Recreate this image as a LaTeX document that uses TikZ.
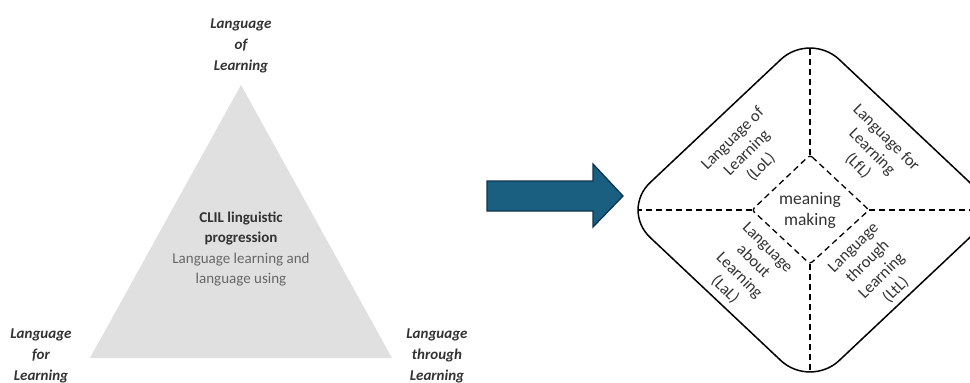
\documentclass[tikz,border=0pt]{standalone}
\usepackage{fontspec}
\setmainfont{Carlito}
\usepackage{xcolor}
\usepackage{tikz}
\usetikzlibrary{positioning}
\definecolor{trigray}{HTML}{E0E0E0}
\definecolor{arrowblue}{HTML}{1B5F80}
\definecolor{arrowedge}{HTML}{0E3650}
\definecolor{labelgray}{HTML}{333333}
\definecolor{textgray}{HTML}{676767}
\tikzset{
    cornerlabel/.style={align=center, inner sep=0pt, text=labelgray,
        font=\fontsize{15}{21}\selectfont\bfseries\itshape},
    quadlabel/.style={align=center, inner sep=0pt, text=black!80,
        font=\fontsize{16.5}{20}\selectfont},
    divider/.style={line width=1.3pt, dash pattern=on 6pt off 4pt}
}

\begin{document}
\begin{tikzpicture}[x=1pt, y=-1pt]
                        \useasboundingbox (0,0) rectangle (970,383);
                        % triangle
                        \fill[trigray] (241,85) -- (392,358) -- (90,358) -- cycle;
                        \node[cornerlabel] (lol) at (241,46) {Language\\of\\Learning};
                        \node[cornerlabel] (lfl) at (41,356) {Language\\for\\Learning};
                        \node[cornerlabel] (ltl) at (437,356) {Language\\through\\Learning};
                        \node[align=center, inner sep=0pt, text=textgray, font=\fontsize{15}{20.3}\selectfont] (clil) at (241,249)
                            {\textcolor{labelgray}{\bfseries CLIL linguistic}\\\textcolor{labelgray}{\bfseries progression}\\Language learning and\\language using};
                        % arrow
                        \filldraw[fill=arrowblue, draw=arrowedge, line width=1.3pt] (487,181) -- (593,181) -- (593,164) -- (623,196) -- (593,227) -- (593,211) -- (487,211) -- cycle;
                        % outer diamond
                        \draw[line width=1.5pt, rounded corners=40pt] (810,32) -- (999,210) -- (810,388) -- (621,210) -- cycle;
                        \coordinate (otop) at (810,49);
                        \coordinate (obot) at (810,370);
                        \coordinate (oleft) at (638,210);
                        \coordinate (oright) at (975,210);
                        % inner diamond
                        \coordinate (itop) at (810,155);
                        \coordinate (ibot) at (810,264);
                        \coordinate (ileft) at (752,210);
                        \coordinate (iright) at (869,210);
                        \draw[divider, rounded corners=3pt] (itop) -- (iright) -- (ibot) -- (ileft) -- cycle;
                        \draw[divider] (itop) -- (otop);
                        \draw[divider] (ibot) -- (obot);
                        \draw[divider] (ileft) -- (oleft);
                        \draw[divider] (iright) -- (oright);
                        \node[quadlabel, font=\fontsize{17.5}{21}\selectfont] (mm) at (810,210) {meaning\\making};
                        \node[quadlabel, rotate=45] (qlol) at (747,153) {Language of\\Learning\\(LoL)};
                        \node[quadlabel, rotate=-45] (qlfl) at (872,152) {Language for\\Learning\\(LfL)};
                        \node[quadlabel, rotate=-45] (qlal) at (746,269) {Language\\about\\Learning\\(LaL)};
                        \node[quadlabel, rotate=45] (qltl) at (875,269) {Language\\through\\Learning\\(LtL)};
                    \end{tikzpicture}
\end{document}
